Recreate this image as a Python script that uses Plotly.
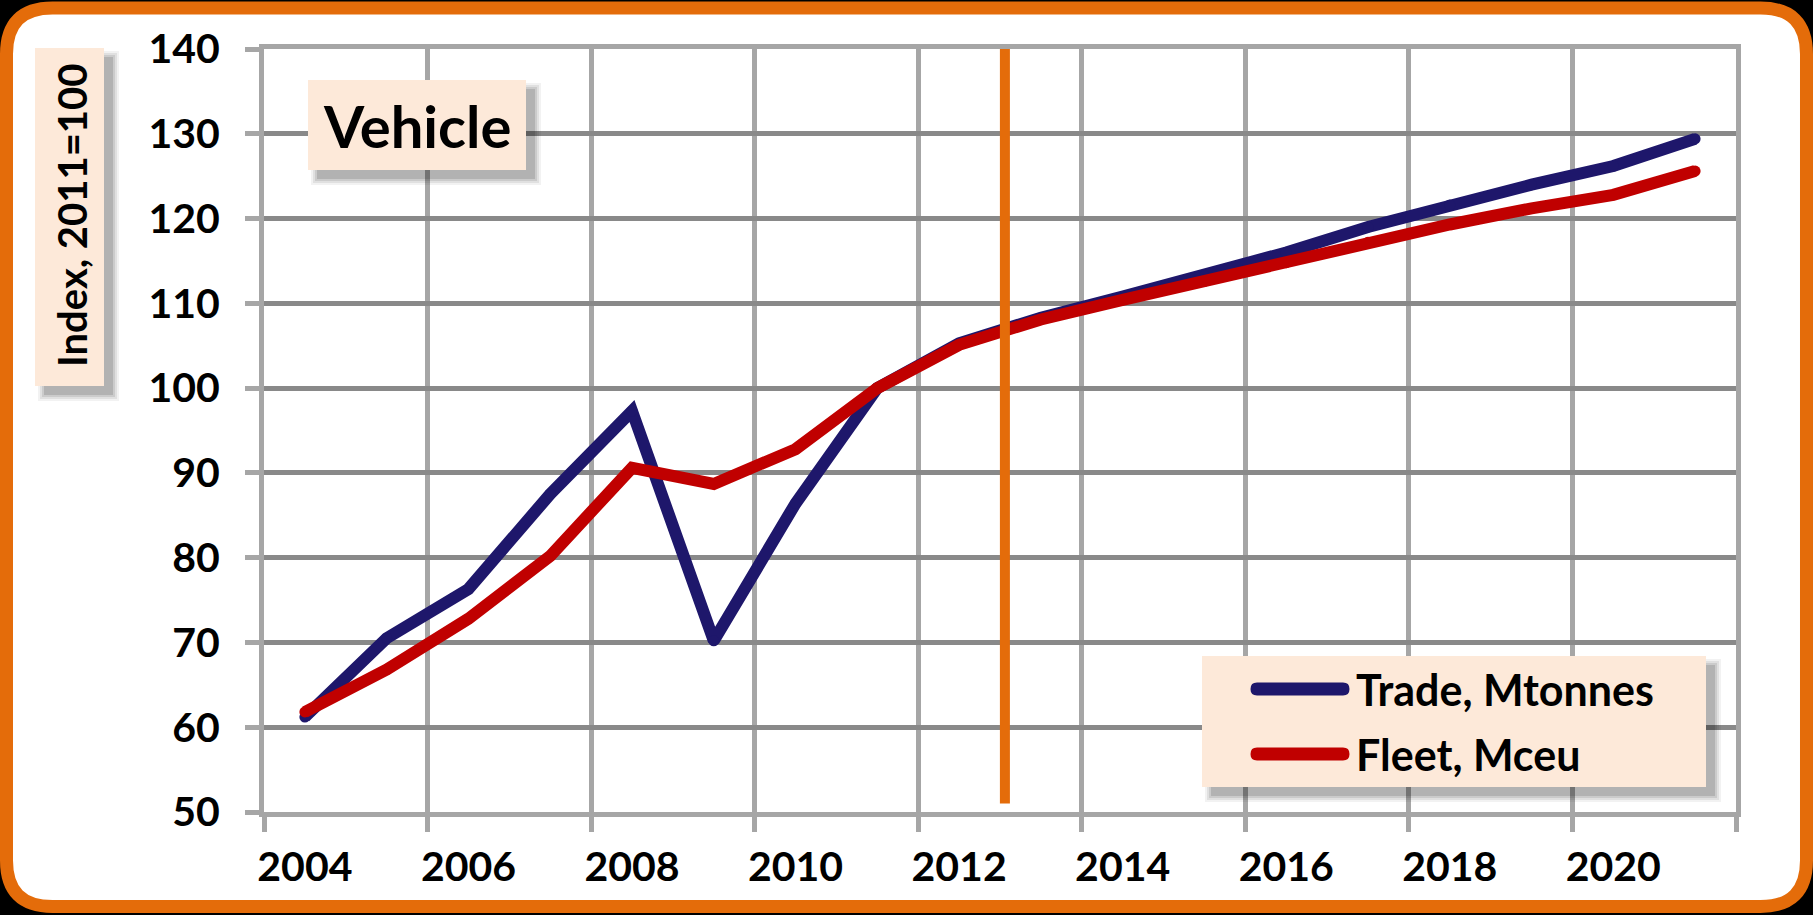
import plotly.graph_objects as go

# Data (index, 2011 = 100)
years = list(range(2004, 2022))
trade = [61.2, 70.5, 76.3, 87.5, 97.3, 70.2, 86.4, 100.0, 105.3, 108.3,
         110.8, 113.3, 116.0, 119.0, 121.6, 124.0, 126.2, 129.4]
fleet = [61.8, 66.8, 72.8, 80.2, 90.6, 88.7, 92.8, 100.0, 105.1, 108.1,
         110.4, 112.6, 114.8, 117.2, 119.3, 121.2, 122.8, 125.6]
trade_name = "Trade, Mtonnes"
fleet_name = "Fleet, Mceu"
label_years = list(range(2004, 2021, 2))
forecast_x = 2012.56          # orange divider between actuals and forecast
title_text = "Vehicle"
ytitle_text = "Index, 2011=100"

NAVY = "#1E176B"
RED = "#C00000"
ORANGE = "#E46C0A"
PEACH = "#FDE9D9"
FONT = "Lato, 'Open Sans', sans-serif"

# figure / plot-area geometry in pixels
W, H = 1813, 915
L, R, T, B = 264, 1736, 49, 812


def px(x):
    return (x - L) / (R - L)


def py(y):
    return (B - y) / (B - T)


def rounded_path(x0, y0, x1, y1, r):
    pts = [
        ("M", [(x0 + r, y0)]), ("L", [(x1 - r, y0)]), ("Q", [(x1, y0), (x1, y0 + r)]),
        ("L", [(x1, y1 - r)]), ("Q", [(x1, y1), (x1 - r, y1)]),
        ("L", [(x0 + r, y1)]), ("Q", [(x0, y1), (x0, y1 - r)]),
        ("L", [(x0, y0 + r)]), ("Q", [(x0, y0), (x0 + r, y0)]),
    ]
    out = ""
    for cmd, pp in pts:
        out += cmd + " ".join(f"{px(a):.5f},{py(b):.5f}" for a, b in pp) + " "
    return out + "Z"


fig = go.Figure()

for name, vals, col in [(trade_name, trade, NAVY), (fleet_name, fleet, RED)]:
    fig.add_trace(go.Scatter(
        x=years, y=vals, name=name, mode="lines+markers",
        line=dict(color=col, width=12),
        marker=dict(color=col, size=11, line=dict(width=0)),
    ))

shapes = []

# outer frame: white card with orange rounded border
shapes.append(dict(type="path", xref="paper", yref="paper", layer="below",
                   path=rounded_path(6.5, 8, 1806.5, 906.5, 46),
                   fillcolor="white", line=dict(color=ORANGE, width=13)))

# forecast divider
shapes.append(dict(type="line", xref="x", yref="y", layer="above",
                   x0=forecast_x, x1=forecast_x, y0=51, y1=140.2,
                   line=dict(color=ORANGE, width=10)))


def shadow_box(x0, y0, x1, y1):
    for g, op in [(6, 0.05), (4, 0.07), (2, 0.09), (0, 0.12)]:
        shapes.append(dict(type="rect", xref="paper", yref="paper", layer="above",
                           x0=px(x0 + 9 - g), x1=px(x1 + 9 + g),
                           y0=py(y1 + 9 + g), y1=py(y0 + 9 - g),
                           fillcolor=f"rgba(0,0,0,{op})", line=dict(width=0)))
    shapes.append(dict(type="rect", xref="paper", yref="paper", layer="above",
                       x0=px(x0), x1=px(x1), y0=py(y1), y1=py(y0),
                       fillcolor=PEACH, line=dict(width=0)))


shadow_box(35, 48, 104, 386)      # y title box
shadow_box(308, 80, 526, 170)     # "Vehicle" box
shadow_box(1202, 656, 1706, 787)  # legend box

# legend samples (pill shaped lines)
for yc, col in [(689, NAVY), (754, RED)]:
    x0, x1, h = 1257, 1343, 6.5
    path = (f"M{px(x0):.5f},{py(yc - h):.5f} L{px(x1):.5f},{py(yc - h):.5f} "
            f"Q{px(x1 + h):.5f},{py(yc - h):.5f} {px(x1 + h):.5f},{py(yc):.5f} "
            f"Q{px(x1 + h):.5f},{py(yc + h):.5f} {px(x1):.5f},{py(yc + h):.5f} "
            f"L{px(x0):.5f},{py(yc + h):.5f} "
            f"Q{px(x0 - h):.5f},{py(yc + h):.5f} {px(x0 - h):.5f},{py(yc):.5f} "
            f"Q{px(x0 - h):.5f},{py(yc - h):.5f} {px(x0):.5f},{py(yc - h):.5f} Z")
    shapes.append(dict(type="path", xref="paper", yref="paper", layer="above",
                       path=path, fillcolor=col, line=dict(width=0)))

annotations = [
    dict(text=title_text, x=px(417), y=py(126), xref="paper", yref="paper",
         xanchor="center", yanchor="middle", showarrow=False,
         font=dict(family=FONT, size=58, color="black", weight="bold")),
    dict(text=ytitle_text, x=px(72), y=py(216), xref="paper", yref="paper",
         xanchor="center", yanchor="middle", showarrow=False, textangle=-90,
         font=dict(family=FONT, size=40, color="black", weight="bold")),
]
for yc, name in [(689, trade_name), (754, fleet_name)]:
    annotations.append(dict(text=name, x=px(1354), y=py(yc), xref="paper", yref="paper",
                            xanchor="left", yanchor="middle", showarrow=False,
                            font=dict(family=FONT, size=43, color="black", weight="bold")))

fig.update_layout(
    width=W, height=H,
    margin=dict(l=L, r=W - R, t=T, b=H - B),
    paper_bgcolor="black",
    plot_bgcolor="rgba(0,0,0,0)",
    showlegend=False,
    shapes=shapes,
    annotations=annotations,
    xaxis=dict(
        range=[2003.5, 2021.5],
        tickmode="array", tickvals=label_years, ticktext=[str(y) for y in label_years],
        ticks="", showgrid=False, zeroline=False,
        ticklabelstandoff=15,
        tickfont=dict(family=FONT, size=41, color="black", weight="bold"),
        minor=dict(tickmode="linear", tick0=2003.5, dtick=2, showgrid=True,
                   gridcolor="#A6A6A6", gridwidth=5, ticks="outside",
                   ticklen=15, tickwidth=5, tickcolor="#A6A6A6"),
        showline=True, mirror=True, linecolor="#A6A6A6", linewidth=5,
    ),
    yaxis=dict(
        range=[50, 140], tickmode="linear", tick0=50, dtick=10,
        showgrid=True, gridcolor="#898989", gridwidth=5, zeroline=False,
        ticks="outside", ticklen=14, tickwidth=5, tickcolor="#A6A6A6",
        ticklabelstandoff=17,
        tickfont=dict(family=FONT, size=41, color="black", weight="bold"),
        showline=True, mirror=True, linecolor="#A6A6A6", linewidth=5,
    ),
)

fig.write_html("out.html", config={"displayModeBar": False},
               post_script="document.body.style.margin='0';")
